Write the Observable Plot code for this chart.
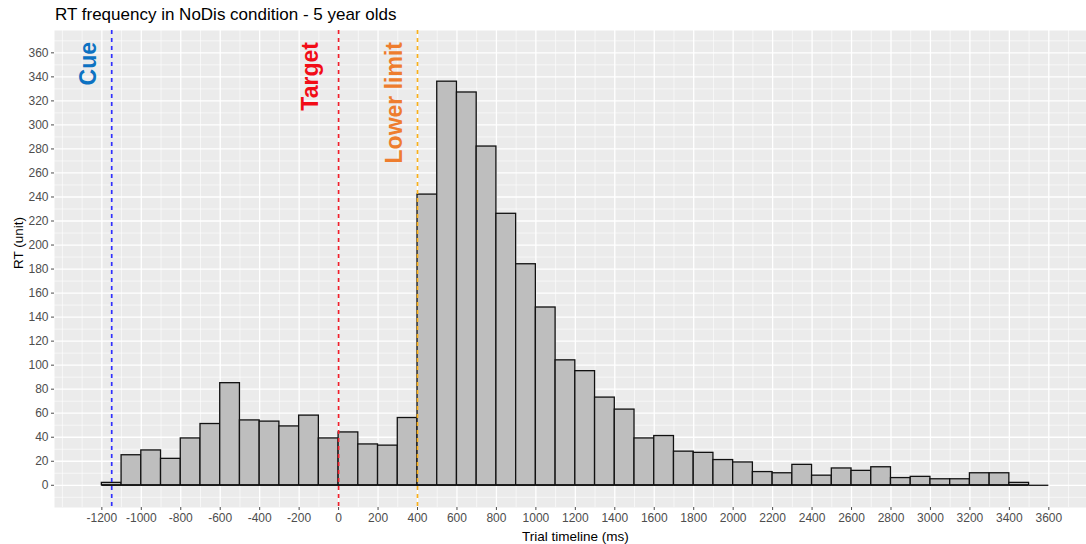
<!DOCTYPE html>
<html>
<head>
<meta charset="utf-8">
<script src="https://cdn.jsdelivr.net/npm/d3@7"></script>
<script src="https://cdn.jsdelivr.net/npm/@observablehq/plot@0.6"></script>
<style>
  html, body { margin: 0; padding: 0; background: white; }
  #title { height: 30px; box-sizing: border-box; padding-top: 6px; padding-left: 55px;
           font: 17px "Liberation Sans", Arial, sans-serif; line-height: 17px; color: #000; white-space: nowrap; }
  #chart svg { display: block; }
</style>
</head>
<body>
<div id="title">RT frequency in NoDis condition - 5 year olds</div>
<div id="chart"></div>
<script>
// ---- data ----
const binStarts = [-1200, -1100, -1000, -900, -800, -700, -600, -500, -400, -300, -200, -100,
  0, 100, 200, 300, 400, 500, 600, 700, 800, 900, 1000, 1100, 1200, 1300, 1400, 1500, 1600,
  1700, 1800, 1900, 2000, 2100, 2200, 2300, 2400, 2500, 2600, 2700, 2800, 2900, 3000, 3100,
  3200, 3300, 3400, 3500];
const counts = [2, 25, 29, 22, 39, 51, 85, 54, 53, 49, 58, 39,
  44, 34, 33, 56, 242, 336, 327, 282, 226, 184, 148, 104, 95, 73, 63, 39, 41,
  28, 27, 21, 19, 11, 10, 17, 8, 14, 12, 15, 6, 7, 5, 5,
  10, 10, 2, 0];
const binWidth = 100;

const xTicks = [-1200, -1000, -800, -600, -400, -200, 0, 200, 400, 600, 800, 1000, 1200, 1400,
  1600, 1800, 2000, 2200, 2400, 2600, 2800, 3000, 3200, 3400, 3600];
const yTicks = [0, 20, 40, 60, 80, 100, 120, 140, 160, 180, 200, 220, 240, 260, 280, 300, 320, 340, 360];

const refNames = ["Cue", "Target", "Lower limit"];
const refTimes = [-1150, 0, 400];
const refLineColors = ["#2f2fff", "#f0202c", "#f9b01a"];
const refLabelColors = ["#0d72c2", "#f20d17", "#ee7d2e"];
const refLabelX = [-1265, -140, 282];
const refLabelY = 369;

const xTitle = "Trial timeline (ms)";
const yTitle = "RT (unit)";

// ---- derived tables ----
const bins = binStarts.map((x0, i) => ({x0, x1: x0 + binWidth, n: counts[i]}));
const refs = refNames.map((name, i) => ({name, t: refTimes[i], line: refLineColors[i], label: refLabelColors[i], lx: refLabelX[i]}));

const xDomain = [-1440, 3791];
const xCenter = (-1440 + 3840) / 2;
const yDomain = [-18.5, 378.6];

function minorOf(ticks, lo, hi) {
  const step = ticks[1] - ticks[0];
  const ext = [ticks[0] - step, ...ticks, ticks[ticks.length - 1] + step];
  const out = [];
  for (let i = 0; i < ext.length - 1; i++) out.push((ext[i] + ext[i + 1]) / 2);
  out.push(ext[0], ext[ext.length - 1]);
  return out.filter(v => v >= lo && v <= hi);
}
const xMinor = minorOf(xTicks, xDomain[0], xDomain[1]);
const yMinor = minorOf(yTicks, yDomain[0], yDomain[1]);

const font = "Liberation Sans, Arial, sans-serif";
const plain = d => String(d);

const chart = Plot.plot({
  width: 1086,
  height: 514,
  marginLeft: 54,
  marginRight: 0,
  marginTop: 0,
  marginBottom: 37,
  x: {domain: xDomain},
  y: {domain: yDomain},
  color: {type: "identity"},
  style: {fontFamily: font, background: "white", overflow: "visible"},
  marks: [
    Plot.frame({fill: "#EBEBEB", stroke: null}),
    Plot.gridX(xMinor, {stroke: "white", strokeOpacity: 1, strokeWidth: 0.6}),
    Plot.gridY(yMinor, {stroke: "white", strokeOpacity: 1, strokeWidth: 0.6}),
    Plot.gridX(xTicks, {stroke: "white", strokeOpacity: 1, strokeWidth: 1.3}),
    Plot.gridY(yTicks, {stroke: "white", strokeOpacity: 1, strokeWidth: 1.3}),
    Plot.rectY(bins, {x1: "x0", x2: "x1", y: "n", fill: "#BEBEBE", stroke: "#111", strokeWidth: 1.3}),
    Plot.ruleY(bins, {x1: "x0", x2: "x1", y: () => 0, stroke: "#111", strokeWidth: 1.3}),
    Plot.ruleX(refs, {x: "t", stroke: d => d.line, strokeWidth: 1.7, strokeDasharray: "4,4"}),
    Plot.text(refs, {x: "lx", y: () => refLabelY, text: "name", rotate: -90, textAnchor: "end",
      lineAnchor: "middle", fill: d => d.label, fontWeight: "bold", fontSize: 23, fontFamily: font}),
    Plot.axisX({ticks: xTicks, tickFormat: plain, tickSize: 3, tickPadding: 3, label: null, fontSize: 12, color: "#4d4d4d"}),
    Plot.axisY({ticks: yTicks, tickFormat: plain, tickSize: 3, tickPadding: 3, label: null, fontSize: 12, color: "#4d4d4d"}),
    Plot.text([xTitle], {x: () => xCenter, frameAnchor: "bottom", dy: 29, lineAnchor: "middle",
      text: d => d, fontSize: 13.5, fill: "#000"}),
    Plot.text([yTitle], {frameAnchor: "left", dx: -36, rotate: -90, lineAnchor: "middle",
      text: d => d, fontSize: 13.5, fill: "#000"})
  ]
});
document.getElementById("chart").appendChild(chart);
</script>
</body>
</html>
